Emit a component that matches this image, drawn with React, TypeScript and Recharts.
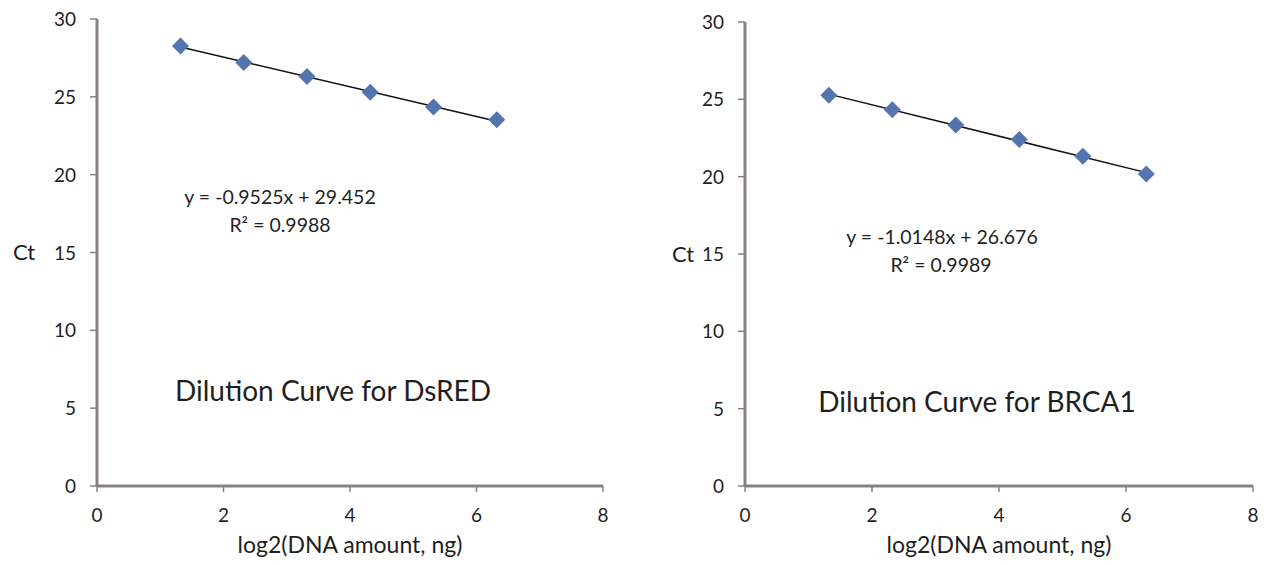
import { ScatterChart, Scatter, XAxis, YAxis, ReferenceLine, Label } from 'recharts'

// log2 of the template amount (ng) for the six dilution points
const LOG2_AMOUNT = [1.32, 2.32, 3.32, 4.32, 5.32, 6.32]
const CT_DSRED = [28.27, 27.21, 26.3, 25.3, 24.35, 23.52]
const CT_BRCA1 = [25.27, 24.32, 23.34, 22.4, 21.32, 20.18]

const X_TICKS = [0, 2, 4, 6, 8]
const Y_TICKS = [0, 5, 10, 15, 20, 25, 30]

// linear fits as printed on the chart: [slope, intercept]
const FIT_DSRED = [-0.9525, 29.452]
const FIT_BRCA1 = [-1.0148, 26.676]
const R2_DSRED = '0.9988'
const R2_BRCA1 = '0.9989'

const FONT = 'Lato, "Open Sans", sans-serif'
const MARKER = '#5474b0'
const AXIS = '#87827d'
const INK = '#1f1f1f'
const TICK_SIZE = 19

function Diamond(props: any) {
  const { cx, cy } = props
  const r = 8.5
  return (
    <polygon
      points={`${cx},${cy - r} ${cx + r},${cy} ${cx},${cy + r} ${cx - r},${cy}`}
      fill={MARKER}
    />
  )
}

function XTick(props: any) {
  const { x, y, payload } = props
  return (
    <text x={x} y={y + 30} textAnchor="middle" fill={INK} fontSize={TICK_SIZE} fontFamily={FONT}>
      {payload.value}
    </text>
  )
}

function YTick(props: any) {
  const { x, y, payload } = props
  return (
    <text x={x} y={y + 7} textAnchor="end" fill={INK} fontSize={TICK_SIZE} fontFamily={FONT}>
      {payload.value}
    </text>
  )
}

type Spot = { x: number; y: number }

type PanelProps = {
  left: number
  ct: number[]
  fit: number[]
  r2: string
  title: string
  margin: { top: number; right: number; bottom: number; left: number }
  yAxisWidth: number
  ctOffset: number
  eq: Spot
  r2Pos: Spot
  titlePos: Spot
}

function fmtFit(fit: number[]) {
  return `y = ${fit[0]}x + ${fit[1]}`
}

function Panel(p: PanelProps) {
  const data = LOG2_AMOUNT.map((x, i) => ({ x, y: p.ct[i] }))
  const x0 = LOG2_AMOUNT[0]
  const x1 = LOG2_AMOUNT[LOG2_AMOUNT.length - 1]
  const textStyle = {
    position: 'absolute' as const,
    transform: 'translate(-50%, -50%)',
    whiteSpace: 'nowrap' as const,
    fontFamily: FONT,
    color: INK,
    lineHeight: 1,
  }
  return (
    <div style={{ position: 'absolute', left: p.left, top: 0, width: 633, height: 565 }}>
      <ScatterChart width={633} height={565} margin={p.margin}>
        <XAxis
          type="number"
          dataKey="x"
          domain={[0, 8]}
          ticks={X_TICKS}
          allowDataOverflow
          height={79}
          axisLine={{ stroke: AXIS, strokeWidth: 3 }}
          tickLine={{ stroke: AXIS, strokeWidth: 1.5 }}
          tickSize={6}
          tickMargin={0}
          tick={<XTick />}
        >
          <Label
            value="log2(DNA amount, ng)"
            position="insideBottom"
            offset={12}
            fontSize={23}
            fontFamily={FONT}
            fill={INK}
          />
        </XAxis>
        <YAxis
          type="number"
          dataKey="y"
          domain={[0, 30]}
          ticks={Y_TICKS}
          width={p.yAxisWidth}
          axisLine={{ stroke: AXIS, strokeWidth: 3 }}
          tickLine={{ stroke: AXIS, strokeWidth: 1.5 }}
          tickSize={7}
          tickMargin={14}
          tick={<YTick />}
        >
          <Label
            value="Ct"
            position="insideLeft"
            offset={p.ctOffset}
            angle={0}
            fontSize={22}
            fontFamily={FONT}
            fill={INK}
          />
        </YAxis>
        <Scatter data={data} shape={<Diamond />} isAnimationActive={false} />
        <ReferenceLine
          segment={[
            { x: x0, y: p.fit[0] * x0 + p.fit[1] },
            { x: x1, y: p.fit[0] * x1 + p.fit[1] },
          ]}
          stroke="#111"
          strokeWidth={1.5}
        />
      </ScatterChart>
      <div style={{ ...textStyle, left: p.eq.x, top: p.eq.y, fontSize: 19.5 }}>{fmtFit(p.fit)}</div>
      <div style={{ ...textStyle, left: p.r2Pos.x, top: p.r2Pos.y, fontSize: 19.5 }}>
        R² = {p.r2}
      </div>
      <div style={{ ...textStyle, left: p.titlePos.x, top: p.titlePos.y, fontSize: 28 }}>
        {p.title}
      </div>
    </div>
  )
}

export default function App() {
  return (
    <div style={{ position: 'absolute', left: 0, top: 0, width: 1266, height: 565, background: '#fff' }}>
      <Panel
        left={0}
        ct={CT_DSRED}
        fit={FIT_DSRED}
        r2={R2_DSRED}
        title="Dilution Curve for DsRED"
        margin={{ top: 19, right: 30, bottom: 0, left: 0 }}
        yAxisWidth={97}
        ctOffset={13}
        eq={{ x: 280, y: 197 }}
        r2Pos={{ x: 280, y: 225 }}
        titlePos={{ x: 333, y: 390 }}
      />
      <Panel
        left={633}
        ct={CT_BRCA1}
        fit={FIT_BRCA1}
        r2={R2_BRCA1}
        title="Dilution Curve for BRCA1"
        margin={{ top: 22, right: 13, bottom: 0, left: 0 }}
        yAxisWidth={112}
        ctOffset={39}
        eq={{ x: 942 - 633, y: 237 }}
        r2Pos={{ x: 941 - 633, y: 265 }}
        titlePos={{ x: 977 - 633, y: 401 }}
      />
    </div>
  )
}
